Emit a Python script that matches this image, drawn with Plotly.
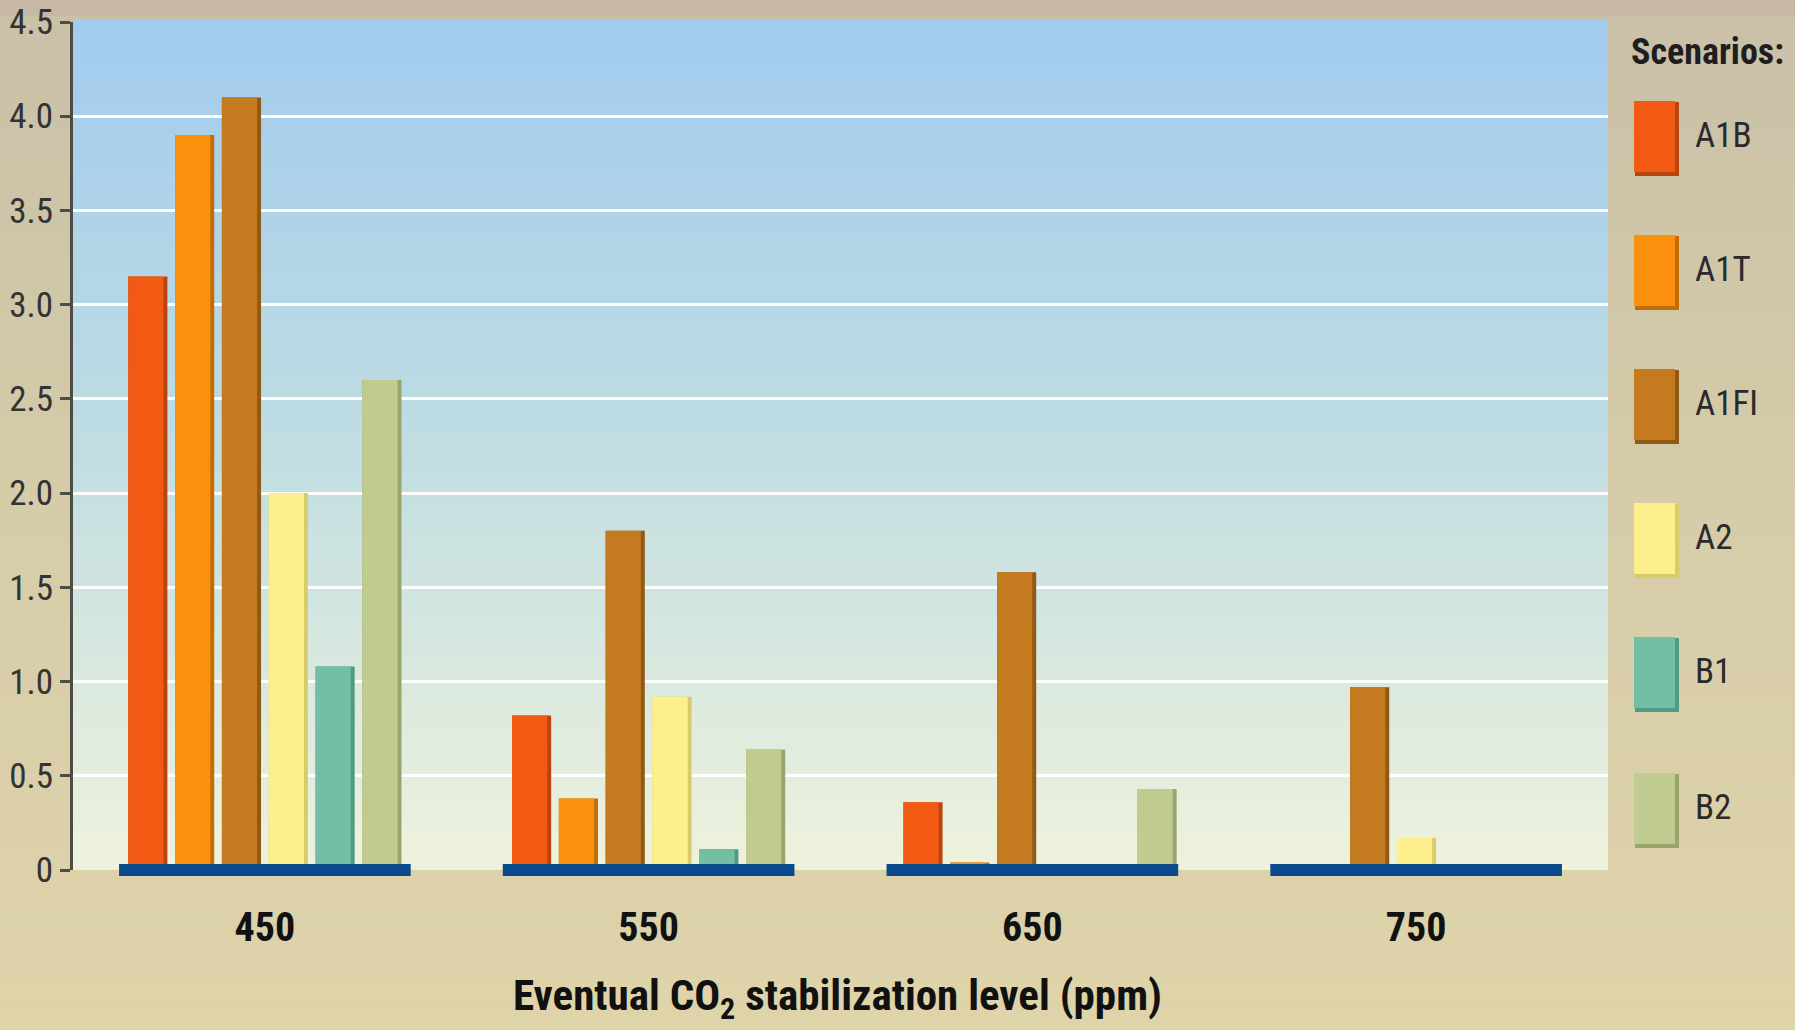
import plotly.graph_objects as go

# Stabilization levels (ppm) and emission scenarios
levels = ["450", "550", "650", "750"]
scenarios = ["A1B", "A1T", "A1FI", "A2", "B1", "B2"]

# Values per scenario, one entry per stabilization level
a1b = [3.15, 0.82, 0.36, 0.0]
a1t = [3.9, 0.38, 0.04, 0.0]
a1fi = [4.1, 1.8, 1.58, 0.97]
a2 = [2.0, 0.92, 0.0, 0.17]
b1 = [1.08, 0.11, 0.0, 0.0]
b2 = [2.6, 0.64, 0.43, 0.0]

y_tickvals = [0, 0.5, 1.0, 1.5, 2.0, 2.5, 3.0, 3.5, 4.0, 4.5]
y_ticktext = ["0", "0.5", "1.0", "1.5", "2.0", "2.5", "3.0", "3.5", "4.0", "4.5"]

series = [a1b, a1t, a1fi, a2, b1, b2]
colors = ["#f25a14", "#fb900c", "#c47a1f", "#fdf08c", "#73bfa6", "#c0cb90"]
shadow_colors = ["#b8440f", "#c06d08", "#8f5916", "#d8cc6a", "#539a82", "#9aa56e"]

W, H = 1795, 1030
ML, MR, MT, MB = 73, 187, 22, 160
PW, PH = W - ML - MR, H - MT - MB

NARROW = "Liberation Sans Narrow, Arial Narrow, Roboto Condensed, Liberation Sans, sans-serif"

# Bar layout inside each category (category units)
slot = 0.122
bar_w = 0.102
group_shift = [0.0, 0.0, 0.02, -0.06]


def px_x(x):
    return (x - ML) / PW


def px_y(y):
    return (H - MB - y) / PH


def lerp(c1, c2, t):
    a = [int(c1[i:i + 2], 16) for i in (1, 3, 5)]
    b = [int(c2[i:i + 2], 16) for i in (1, 3, 5)]
    return "#" + "".join(f"{round(a[k] + (b[k] - a[k]) * t):02x}" for k in range(3))


def gradient(stops, t):
    for (t0, c0), (t1, c1) in zip(stops, stops[1:]):
        if t <= t1:
            return lerp(c0, c1, (t - t0) / (t1 - t0) if t1 > t0 else 0)
    return stops[-1][1]


fig = go.Figure()
n_s = len(scenarios)
for k, (name, vals, col, sh) in enumerate(zip(scenarios, series, colors, shadow_colors)):
    center = (k - (n_s - 1) / 2) * slot
    # darker strip on the right gives each bar a slight bevel
    fig.add_trace(go.Bar(
        x=levels, y=vals, name=name + " edge",
        width=bar_w,
        offset=[center - bar_w / 2 + s for s in group_shift],
        marker=dict(color=sh, line=dict(width=0)),
        showlegend=False, hoverinfo="skip",
    ))
    fig.add_trace(go.Bar(
        x=levels, y=vals, name=name,
        width=bar_w * 0.9,
        offset=[center - bar_w / 2 + s for s in group_shift],
        marker=dict(color=col, line=dict(width=0)),
        showlegend=False,
    ))

shapes = []

# Page background: soft vertical tan gradient
paper_stops = [(0.0, "#c9c0a8"), (0.5, "#d6cca9"), (1.0, "#ded3a9")]
n = 40
for i in range(n):
    y0, y1 = H * i / n, H * (i + 1) / n + 1
    shapes.append(dict(type="rect", xref="paper", yref="paper",
                       x0=px_x(0), x1=px_x(W), y0=px_y(y1), y1=px_y(y0),
                       fillcolor=gradient(paper_stops, i / (n - 1)),
                       line=dict(width=0), layer="below"))
# Thin band across the very top
shapes.append(dict(type="rect", xref="paper", yref="paper",
                   x0=px_x(0), x1=px_x(W), y0=px_y(16), y1=px_y(0),
                   fillcolor="#c6b8a4", line=dict(width=0), layer="below"))

# Plot area: sky-blue to pale cream gradient
plot_stops = [(0.0, "#a2cbee"), (0.45, "#bcdbe3"), (1.0, "#eef2dc")]
n = 60
top_px, bot_px = MT - 3, H - MB
for i in range(n):
    y0 = top_px + (bot_px - top_px) * i / n
    y1 = top_px + (bot_px - top_px) * (i + 1) / n + 0.6
    shapes.append(dict(type="rect", xref="paper", yref="paper",
                       x0=0, x1=1, y0=px_y(min(y1, bot_px)), y1=px_y(y0),
                       fillcolor=gradient(plot_stops, i / (n - 1)),
                       line=dict(width=0), layer="below"))

# Dark blue baseline under each group (category i spans paper [i/4, (i+1)/4])
n_cat = len(levels)
for i in range(n_cat):
    cx = (i + 0.5) / n_cat
    half = 0.38 / n_cat
    shapes.append(dict(type="rect", xref="paper", yref="paper",
                       x0=cx - half, x1=cx + half, y0=px_y(876), y1=px_y(864),
                       fillcolor="#0c4a8e", line=dict(width=0), layer="above"))

# Scenario key: tall swatches with labels
annotations = []
key_centers = [138, 272, 406, 540, 674, 810]
for name, col, sh, yc in zip(scenarios, colors, shadow_colors, key_centers):
    shapes.append(dict(type="rect", xref="paper", yref="paper",
                       x0=px_x(1635), x1=px_x(1679),
                       y0=px_y(yc + 38), y1=px_y(yc - 36),
                       fillcolor=sh, line=dict(width=0), layer="above"))
    shapes.append(dict(type="rect", xref="paper", yref="paper",
                       x0=px_x(1634), x1=px_x(1675),
                       y0=px_y(yc + 34), y1=px_y(yc - 37),
                       fillcolor=col, line=dict(width=0), layer="above"))
    annotations.append(dict(xref="paper", yref="paper", x=px_x(1693), y=px_y(yc - 3),
                            xanchor="left", yanchor="middle", showarrow=False,
                            text=name, font=dict(family=NARROW, size=35, color="#2a2a2a")))
annotations.append(dict(xref="paper", yref="paper", x=px_x(1707), y=px_y(52),
                        xanchor="center", yanchor="middle", showarrow=False,
                        text="<b>Scenarios:</b>",
                        font=dict(family=NARROW, size=36, color="#1e1e1e")))

# Axis title
annotations.append(dict(xref="paper", yref="paper", x=px_x(837), y=px_y(998),
                        xanchor="center", yanchor="middle", showarrow=False,
                        text="<b>Eventual CO<sub>2</sub> stabilization level (ppm)</b>",
                        font=dict(family=NARROW, size=43, color="#111111")))

fig.update_layout(
    width=W, height=H,
    margin=dict(l=ML, r=MR, t=MT, b=MB, pad=0),
    paper_bgcolor="#d6cca9",
    plot_bgcolor="rgba(0,0,0,0)",
    barmode="overlay",
    shapes=shapes,
    annotations=annotations,
    xaxis=dict(
        type="category", range=[-0.5, 3.5], automargin=False,
        showgrid=False, showline=False, zeroline=False, ticks="",
        tickfont=dict(family=NARROW, size=40, color="#111111", weight="bold"),
        ticklabelstandoff=30,
    ),
    yaxis=dict(
        range=[0, 4.5], automargin=False,
        tickvals=y_tickvals, ticktext=y_ticktext,
        showgrid=True, gridcolor="#ffffff", gridwidth=3,
        zeroline=False,
        showline=True, linecolor="#4d4d45", linewidth=3,
        ticks="outside", ticklen=10, tickwidth=3, tickcolor="#4d4d45",
        tickfont=dict(family=NARROW, size=35, color="#333333"),
    ),
)

fig.write_html("out.html")
